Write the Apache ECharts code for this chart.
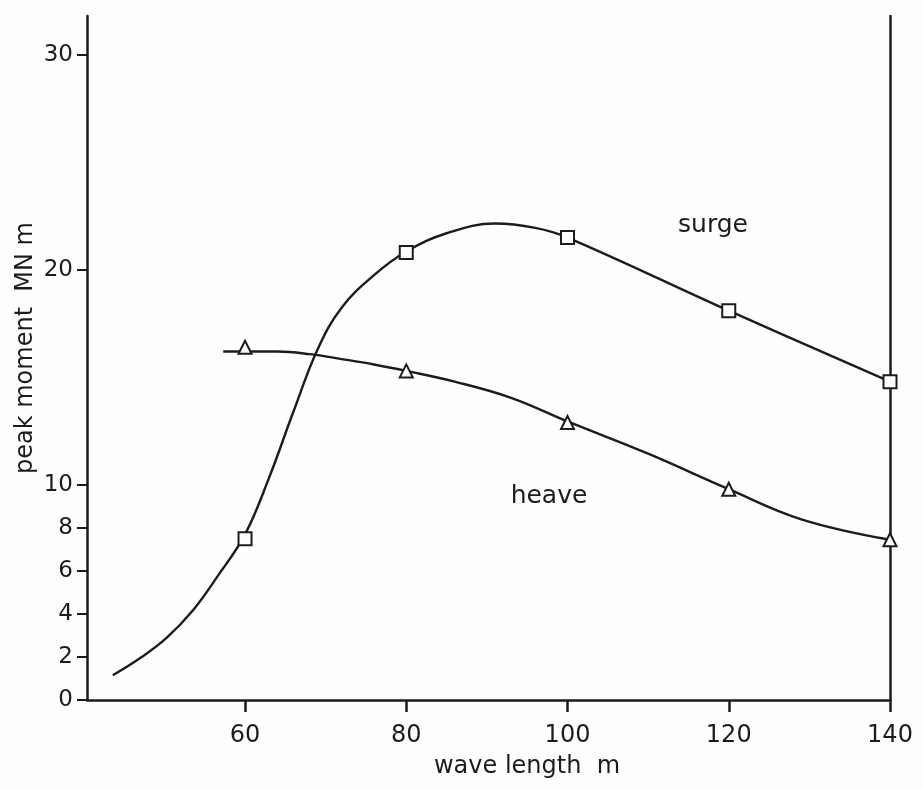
<!DOCTYPE html>
<html>
<head>
<meta charset="utf-8">
<script src="https://cdn.jsdelivr.net/npm/echarts@6/dist/echarts.min.js"></script>
<style>
html,body{margin:0;padding:0;background:#fefefe;}
#c{width:923px;height:789px;}
</style>
</head>
<body>
<div id="c"></div>
<script>
// ---- data ----
const xTicks = [60, 80, 100, 120, 140];
const yTicks = [0, 2, 4, 6, 8, 10, 20, 30];

// measured points
const waveLen = [60, 80, 100, 120, 140];
const surgeVals = [7.5, 20.8, 21.5, 18.1, 14.8];
const heaveVals = [16.4, 15.3, 12.9, 9.8, 7.45];

// drawn fair curves
const surgeCurveX = [43.6, 47.0, 50.3, 53.6, 56.5, 60, 63, 66, 69, 72, 76, 80, 85, 91, 96, 100, 120, 140];
const surgeCurveY = [1.15, 1.95, 2.9, 4.2, 5.7, 7.7, 10.35, 13.4, 16.3, 18.25, 19.75, 20.85, 21.7, 22.15, 21.95, 21.5, 18.1, 14.8];
const heaveCurveX = [57.3, 60, 64, 68, 72, 76, 80, 86, 93, 100, 110, 120, 129, 140];
const heaveCurveY = [16.2, 16.2, 16.2, 16.08, 15.85, 15.6, 15.3, 14.8, 14.05, 12.95, 11.45, 9.8, 8.4, 7.45];

const xName = 'wave length  m';
const yName = 'peak moment  MN m';

// ---- chart ----
const ink = '#1c1c1c';
const zip = (xs, ys) => xs.map((x, i) => [x, ys[i]]);

const chart = echarts.init(document.getElementById('c'), null, {renderer: 'canvas'});
chart.setOption({
  backgroundColor: '#fefefe',
  animation: false,
  grid: {left: 87, right: 33, top: 16, bottom: 89, containLabel: false},
  xAxis: {
    type: 'value', min: 40.4, max: 140,
    splitLine: {show: false},
    axisLine: {lineStyle: {color: ink, width: 2.5}},
    axisTick: {customValues: xTicks, length: 12, lineStyle: {color: ink, width: 2.5}},
    axisLabel: {customValues: xTicks, margin: 24, color: ink, fontSize: 24, fontFamily: 'DejaVu Sans'}
  },
  yAxis: [{
    type: 'value', min: 0, max: 31.8,
    splitLine: {show: false},
    axisLine: {show: true, lineStyle: {color: ink, width: 2.5}},
    axisTick: {customValues: yTicks, length: 10, lineStyle: {color: ink, width: 2}},
    axisLabel: {customValues: yTicks, margin: 14, color: ink, fontSize: 23, fontFamily: 'DejaVu Sans'}
  }, {
    type: 'value', min: 0, max: 31.8, position: 'right',
    splitLine: {show: false},
    axisLine: {show: true, lineStyle: {color: ink, width: 2.5}},
    axisTick: {show: false},
    axisLabel: {show: false}
  }],
  graphic: [
    {type: 'text', x: 527, y: 767, style: {text: xName, align: 'center', verticalAlign: 'middle', font: '24px "DejaVu Sans"', fill: ink}},
    {type: 'text', x: 26, y: 348, rotation: Math.PI / 2, style: {text: yName, align: 'center', verticalAlign: 'middle', font: '24px "DejaVu Sans"', fill: ink}},
    {type: 'text', x: 713, y: 225, style: {text: 'surge', align: 'center', verticalAlign: 'middle', font: '25px "DejaVu Sans"', fill: ink}},
    {type: 'text', x: 549, y: 496, style: {text: 'heave', align: 'center', verticalAlign: 'middle', font: '25px "DejaVu Sans"', fill: ink}}
  ],
  series: [
    {type: 'line', name: 'surge curve', data: zip(surgeCurveX, surgeCurveY), smooth: 0.4, showSymbol: false,
     lineStyle: {color: ink, width: 2.4}, z: 2},
    {type: 'line', name: 'heave curve', data: zip(heaveCurveX, heaveCurveY), smooth: 0.4, showSymbol: false,
     lineStyle: {color: ink, width: 2.4}, z: 2},
    {type: 'scatter', name: 'surge', data: zip(waveLen, surgeVals), symbol: 'rect', symbolSize: 13,
     itemStyle: {color: '#fefefe', borderColor: ink, borderWidth: 2, opacity: 1}, z: 5},
    {type: 'scatter', name: 'heave', data: zip(waveLen, heaveVals), symbol: 'triangle', symbolSize: 13,
     itemStyle: {color: '#fefefe', borderColor: ink, borderWidth: 2, opacity: 1}, z: 5}
  ]
});
</script>
</body>
</html>
